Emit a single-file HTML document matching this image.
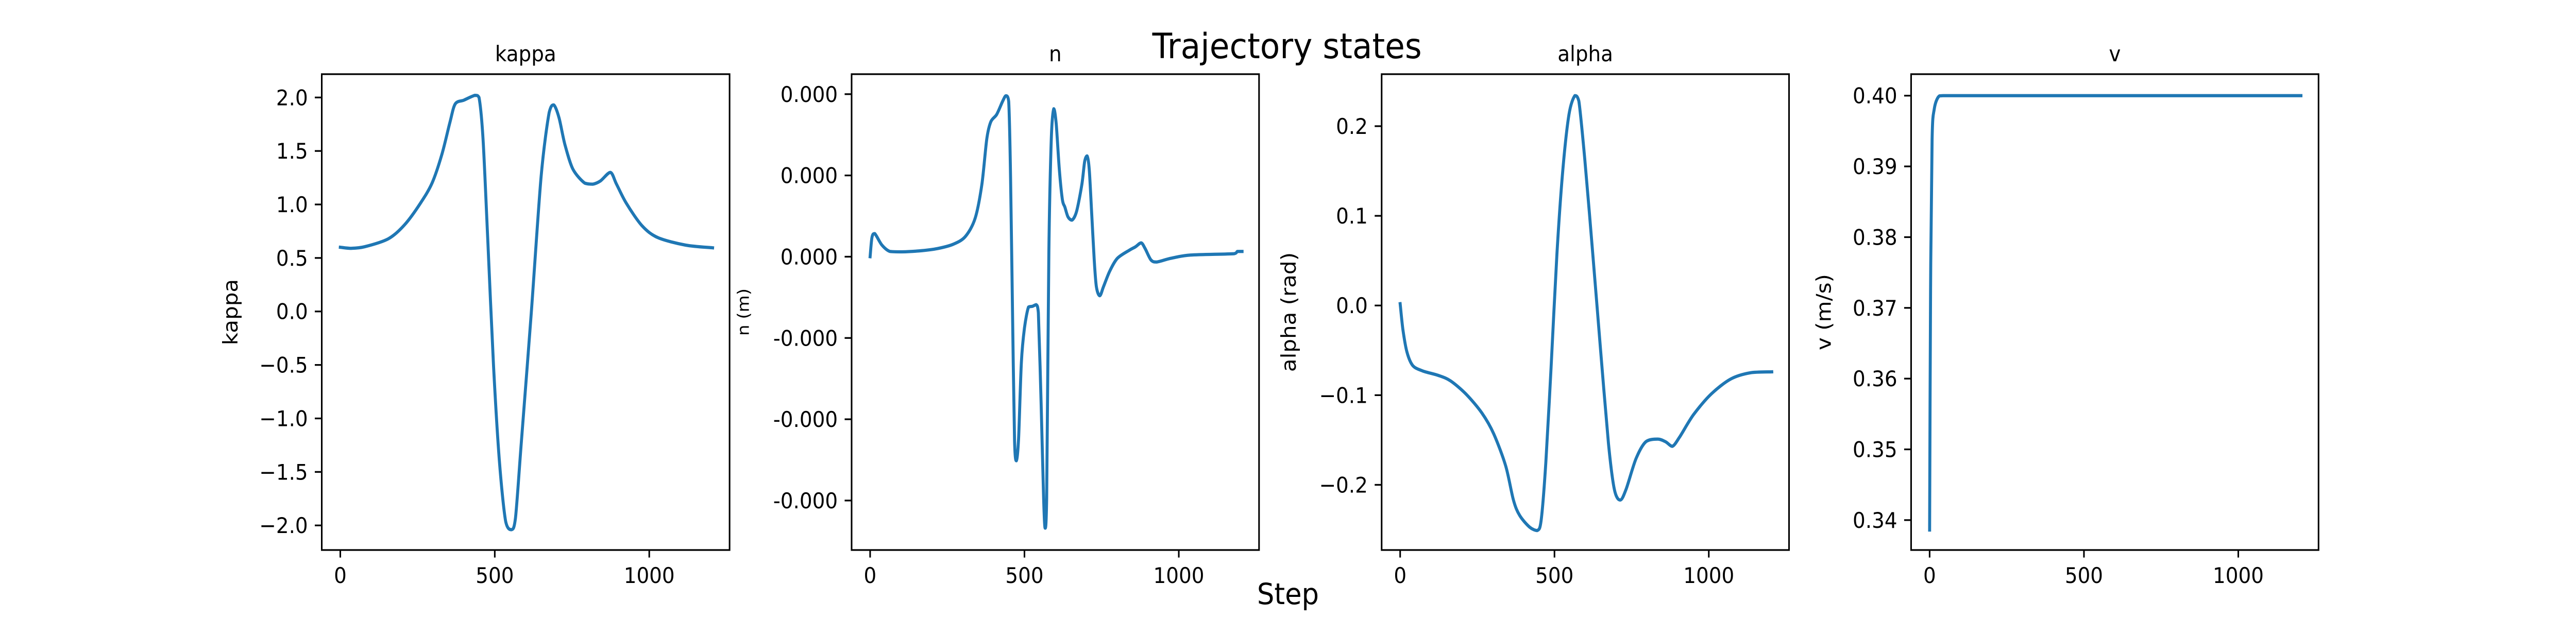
<!DOCTYPE html>
<html><head><meta charset="utf-8"><style>
html,body{margin:0;padding:0;background:#fff;width:100%;height:100%;overflow:hidden;}
svg{display:block;position:absolute;left:0;top:0;width:100vw;height:100vh;font-family:"DejaVu Sans","Liberation Sans",sans-serif;}
</style></head><body>
<svg id="fig" viewBox="0 0 5400 1200" preserveAspectRatio="none" xmlns="http://www.w3.org/2000/svg">
<rect width="5400" height="1200" fill="#fff"/>
<text x="2698" y="113" font-size="68" text-anchor="middle" fill="#000">Trajectory states</text>
<text x="2700" y="1173" font-size="57" text-anchor="middle" fill="#000">Step</text>
</svg>
<script>
const xTicks = [0, 500, 1000];
const xTickLabels = ["0", "500", "1000"];

const kappaSteps = [0,35,79,156,208,259,297,329,355,372,400,436,449,462,477,496,515,535,554,567,586,618,650,676,691,708,727,753,791,817,842,874,894,926,977,1028,1118,1205];
const kappaValues = [0.60,0.59,0.605,0.68,0.81,1.01,1.20,1.47,1.77,1.94,1.975,2.02,2.0,1.61,0.69,-0.51,-1.40,-1.96,-2.04,-1.93,-1.22,-0.02,1.26,1.86,1.93,1.81,1.56,1.33,1.20,1.19,1.22,1.30,1.19,1.01,0.80,0.69,0.62,0.595];
const kappaTicks = [2.0,1.5,1.0,0.5,0.0,-0.5,-1.0,-1.5,-2.0];
const kappaTickLabels = ["2.0","1.5","1.0","0.5","0.0","\u22120.5","\u22121.0","\u22121.5","\u22122.0"];

const nSteps = [0,6,15,38,64,103,167,218,269,308,340,362,378,391,410,429,440,449,455,462,468,474,481,490,500,513,526,538,545,554,562,567,572,579,587,595,603,613,623,631,641,654,669,686,695,703,710,718,726,733,744,756,776,801,840,859,878,891,910,929,974,1038,1179,1190,1205];
const nValues = [0,0.237,0.284,0.144,0.065,0.06,0.074,0.10,0.153,0.246,0.47,0.89,1.45,1.66,1.75,1.91,1.98,1.91,0.98,-0.88,-2.27,-2.51,-2.23,-1.30,-0.88,-0.62,-0.61,-0.59,-0.69,-1.81,-2.97,-3.34,-2.97,0.05,1.45,1.82,1.63,1.07,0.70,0.61,0.49,0.45,0.56,0.89,1.17,1.24,1.07,0.52,-0.04,-0.37,-0.48,-0.37,-0.18,-0.02,0.08,0.12,0.17,0.10,-0.04,-0.065,-0.02,0.02,0.037,0.065,0.065];
const nTicks = [2,1,0,-1,-2,-3];
const nTickLabels = ["0.000","0.000","0.000","-0.000","-0.000","-0.000"];

const alphaSteps = [0,9,22,41,73,124,163,214,265,303,342,367,387,419,444,457,472,489,508,527,547,566,579,598,624,649,675,694,713,732,764,796,835,860,882,905,950,1007,1071,1135,1204];
const alphaValues = [0.002,-0.027,-0.052,-0.067,-0.073,-0.078,-0.084,-0.099,-0.120,-0.143,-0.179,-0.217,-0.234,-0.247,-0.251,-0.239,-0.175,-0.069,0.058,0.151,0.213,0.234,0.228,0.164,0.058,-0.048,-0.154,-0.205,-0.217,-0.205,-0.171,-0.152,-0.149,-0.152,-0.157,-0.147,-0.122,-0.099,-0.082,-0.075,-0.074];
const alphaTicks = [0.2,0.1,0.0,-0.1,-0.2];
const alphaTickLabels = ["0.2","0.1","0.0","\u22120.1","\u22120.2"];

const vSteps = [0,3,8,15,28,44,1203];
const vValues = [0.3386,0.3724,0.3938,0.3981,0.3998,0.400,0.400];
const vTicks = [0.40,0.39,0.38,0.37,0.36,0.35,0.34];
const vTickLabels = ["0.40","0.39","0.38","0.37","0.36","0.35","0.34"];

const NS = "http://www.w3.org/2000/svg";
const svg = document.getElementById("fig");
function mk(tag, attrs, parent) {
  const e = document.createElementNS(NS, tag);
  for (const k in attrs) e.setAttribute(k, attrs[k]);
  (parent || svg).appendChild(e);
  return e;
}
const TOP = 144, BOT = 1068;
function clamp(v, a, b) { const lo = Math.min(a, b), hi = Math.max(a, b); return Math.max(lo, Math.min(hi, v)); }

function smoothPath(px, py) {
  let d = "M" + px[0].toFixed(1) + "," + py[0].toFixed(1);
  const n = px.length;
  for (let i = 0; i < n - 1; i++) {
    const x0 = px[Math.max(i - 1, 0)], y0 = py[Math.max(i - 1, 0)];
    const x1 = px[i], y1 = py[i], x2 = px[i + 1], y2 = py[i + 1];
    const x3 = px[Math.min(i + 2, n - 1)], y3 = py[Math.min(i + 2, n - 1)];
    const t = 0.15;
    const c1x = clamp(x1 + (x2 - x0) * t, x1, x2), c1y = clamp(y1 + (y2 - y0) * t, y1, y2);
    const c2x = clamp(x2 - (x3 - x1) * t, x1, x2), c2y = clamp(y2 - (y3 - y1) * t, y1, y2);
    d += "C" + c1x.toFixed(1) + "," + c1y.toFixed(1) + " " + c2x.toFixed(1) + "," + c2y.toFixed(1) + " " + x2.toFixed(1) + "," + y2.toFixed(1);
  }
  return d;
}

function panel(key, left, right, yMin, yMax, steps, vals, ticks, tickLabels, title, ylabel, ylabelX, ylabelSize) {
  const g = mk("g", {});
  
  
  const xs = v => left + (v + 60) / 1320 * (right - left);
  const ys = v => BOT - (v - yMin) / (yMax - yMin) * (BOT - TOP);
  const px = steps.map(xs), py = vals.map(ys);
  const p = mk("path", {d: smoothPath(px, py), fill: "none", stroke: "#1f77b4", "stroke-width": 6.25, "stroke-linejoin": "round", "stroke-linecap": "square"}, g);
  
  
  const r = mk("rect", {x: left, y: TOP, width: right - left, height: BOT - TOP, fill: "none", stroke: "#000", "stroke-width": 3.3}, g);
  
  
  for (let i = 0; i < xTicks.length; i++) {
    const x = xs(xTicks[i]);
    mk("line", {x1: x, x2: x, y1: BOT, y2: BOT + 14.6, stroke: "#000", "stroke-width": 3.3}, g);
    const t = mk("text", {x: x, y: BOT + 64, "font-size": 42, "text-anchor": "middle"}, g);
    t.textContent = xTickLabels[i];
    
    
  }
  for (let i = 0; i < ticks.length; i++) {
    const y = ys(ticks[i]);
    mk("line", {x1: left, x2: left - 14.6, y1: y, y2: y, stroke: "#000", "stroke-width": 3.3}, g);
    const t = mk("text", {x: left - 29, y: y + 15, "font-size": 42, "text-anchor": "end"}, g);
    t.textContent = tickLabels[i];
    
    
  }
  const tt = mk("text", {x: (left + right) / 2, y: 119, "font-size": 42, "text-anchor": "middle"}, g);
  tt.textContent = title;
  
  
  const cy = (TOP + BOT) / 2;
  const yl = mk("text", {x: ylabelX, y: cy, "font-size": ylabelSize, "text-anchor": "middle", transform: "rotate(-90 " + ylabelX + " " + cy + ")"}, g);
  yl.textContent = ylabel;
  
  
}
panel("kappa", 674.5, 1529.4, -2.23, 2.218, kappaSteps, kappaValues, kappaTicks, kappaTickLabels, "kappa", "kappa", 498, 42);
panel("n", 1785.2, 2639.3, -3.609, 2.246, nSteps, nValues, nTicks, nTickLabels, "n", "n (m)", 1570, 34);
panel("alpha", 2896.3, 3750.3, -0.2727, 0.258, alphaSteps, alphaValues, alphaTicks, alphaTickLabels, "alpha", "alpha (rad)", 2716, 42);
panel("v", 4006.2, 4860.3, 0.33577, 0.40304, vSteps, vValues, vTicks, vTickLabels, "v", "v (m/s)", 3838, 42);
</script>
</body></html>
